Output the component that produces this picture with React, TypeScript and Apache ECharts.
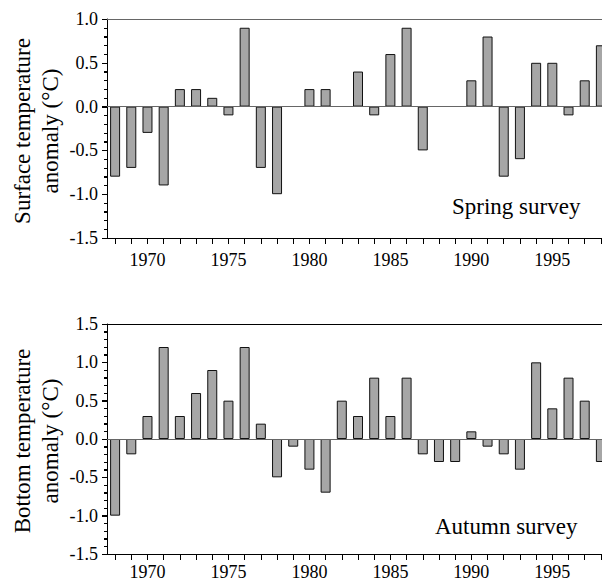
import React, { useEffect, useRef } from "react";
import * as echarts from "echarts";

const years = [
  "1968", "1969", "1970", "1971", "1972", "1973", "1974", "1975", "1976", "1977",
  "1978", "1979", "1980", "1981", "1982", "1983", "1984", "1985", "1986", "1987",
  "1988", "1989", "1990", "1991", "1992", "1993", "1994", "1995", "1996", "1997", "1998",
];

const springSurface = [
  -0.8, -0.7, -0.3, -0.9, 0.2, 0.2, 0.1, -0.1, 0.9, -0.7,
  -1.0, null, 0.2, 0.2, null, 0.4, -0.1, 0.6, 0.9, -0.5,
  null, null, 0.3, 0.8, -0.8, -0.6, 0.5, 0.5, -0.1, 0.3, 0.7,
];

const autumnBottom = [
  -1.0, -0.2, 0.3, 1.2, 0.3, 0.6, 0.9, 0.5, 1.2, 0.2,
  -0.5, -0.1, -0.4, -0.7, 0.5, 0.3, 0.8, 0.3, 0.8, -0.2,
  -0.3, -0.3, 0.1, -0.1, -0.2, -0.4, 1.0, 0.4, 0.8, 0.5, -0.3,
];

// y-axis tick positions (major every 0.5, minor every 0.1)
const topTicks = [
  -1.5, -1.4, -1.3, -1.2, -1.1, -1.0, -0.9, -0.8, -0.7, -0.6, -0.5, -0.4, -0.3,
  -0.2, -0.1, 0.0, 0.1, 0.2, 0.3, 0.4, 0.5, 0.6, 0.7, 0.8, 0.9, 1.0,
];
const bottomTicks = [
  -1.5, -1.4, -1.3, -1.2, -1.1, -1.0, -0.9, -0.8, -0.7, -0.6, -0.5, -0.4, -0.3,
  -0.2, -0.1, 0.0, 0.1, 0.2, 0.3, 0.4, 0.5, 0.6, 0.7, 0.8, 0.9, 1.0, 1.1, 1.2,
  1.3, 1.4, 1.5,
];

const topTitle = "Surface temperature\nanomaly (°C)";
const bottomTitle = "Bottom temperature\nanomaly (°C)";
const topNote = "Spring survey";
const bottomNote = "Autumn survey";

const FONT = "Liberation Serif";

type PanelProps = {
  values: (number | null)[];
  ticks: number[];
  yMax: number;
  gridTop: number;
  gridHeight: number;
  labelMargin: number;
  topLineColor: string;
  title: string;
  titleY: number;
  note: string;
  noteX: number;
  noteY: number;
  top: number;
  height: number;
};

function makeOption(p: PanelProps) {
  return {
    animation: false,
    grid: { left: 107, top: p.gridTop, width: 502, height: p.gridHeight },
    xAxis: [
      {
        type: "category",
        data: years,
        boundaryGap: true,
        axisLine: { show: true, onZero: false, lineStyle: { color: "#000", width: 1 } },
        axisTick: { show: true, alignWithLabel: true, interval: 0, length: 6, lineStyle: { color: "#000", width: 1 } },
        axisLabel: {
          interval: 0,
          formatter: (v: string) => (Number(v) % 5 === 0 ? v : ""),
          fontFamily: FONT,
          fontSize: 18,
          color: "#000",
          margin: p.labelMargin,
        },
        splitLine: { show: false },
      },
      {
        type: "category",
        data: years,
        position: "top",
        axisLine: { show: true, onZero: false, lineStyle: { color: p.topLineColor, width: 1 } },
        axisTick: { show: false },
        axisLabel: { show: false },
        splitLine: { show: false },
      },
    ],
    yAxis: {
      type: "value",
      min: -1.5,
      max: p.yMax,
      interval: 0.5,
      axisLine: { show: true, lineStyle: { color: "#000", width: 1 } },
      axisTick: { show: true, length: 5, lineStyle: { color: "#000", width: 1 } },
      minorTick: { show: true, splitNumber: 5, length: 3, lineStyle: { color: "#000", width: 1 } },
      axisLabel: {
        fontFamily: FONT,
        fontSize: 18,
        color: "#000",
        margin: 9,
        formatter: (v: number) => v.toFixed(1),
      },
      splitLine: { show: false },
    },
    series: [
      {
        type: "bar",
        data: p.values,
        barWidth: 10,
        itemStyle: { color: "#a6a6a6", borderColor: "#111", borderWidth: 1 },
        markLine: {
          silent: true,
          symbol: "none",
          label: { show: false },
          lineStyle: { color: "#666", width: 1, type: "solid" },
          data: [{ yAxis: 0 }],
        },
      },
      {
        type: "custom",
        silent: true,
        clip: false,
        z: 5,
        data: p.ticks.map((v) => [0, v]),
        encode: { x: 0, y: 1 },
        renderItem: (params: any, api: any) => {
          const v = api.value(1) as number;
          const pt = api.coord([0, v]);
          const left = params.coordSys.x;
          const major = Math.abs(v * 2 - Math.round(v * 2)) < 1e-6;
          const len = major ? 5 : 3;
          const y = Math.round(pt[1]) + 0.5;
          return {
            type: "line",
            shape: { x1: left - len, y1: y, x2: left, y2: y },
            style: { stroke: "#000", lineWidth: 1 },
          };
        },
      },
    ],
    graphic: [
      {
        type: "text",
        x: 36.5,
        y: p.titleY,
        rotation: Math.PI / 2,
        style: {
          text: p.title,
          fontFamily: FONT,
          fontSize: 23,
          lineHeight: 28,
          fill: "#000",
          align: "center",
          verticalAlign: "middle",
        },
      },
      {
        type: "text",
        x: p.noteX,
        y: p.noteY,
        style: {
          text: p.note,
          fontFamily: FONT,
          fontSize: 23,
          fill: "#000",
          align: "left",
          verticalAlign: "middle",
        },
      },
    ],
  };
}

function Panel(p: PanelProps) {
  const ref = useRef<HTMLDivElement>(null);
  useEffect(() => {
    if (!ref.current) return;
    const chart = echarts.init(ref.current, undefined, { renderer: "svg" });
    chart.setOption(makeOption(p));
    return () => chart.dispose();
  }, []);
  return (
    <div
      ref={ref}
      style={{ position: "absolute", left: 0, top: p.top, width: 620, height: p.height, background: "#fff" }}
    />
  );
}

export default function App() {
  useEffect(() => {
    document.documentElement.style.overflow = "hidden";
    document.body.style.overflow = "hidden";
  }, []);
  return (
    <>
      <Panel
        values={springSurface}
        ticks={topTicks}
        yMax={1.0}
        gridTop={19}
        gridHeight={219}
        labelMargin={13}
        topLineColor="#666"
        title={topTitle}
        titleY={131}
        note={topNote}
        noteX={452}
        noteY={206}
        top={0}
        height={292}
      />
      <Panel
        values={autumnBottom}
        ticks={bottomTicks}
        yMax={1.5}
        gridTop={32}
        gridHeight={230}
        labelMargin={9}
        topLineColor="#000"
        title={bottomTitle}
        titleY={149}
        note={bottomNote}
        noteX={435}
        noteY={234}
        top={292}
        height={292}
      />
    </>
  );
}
